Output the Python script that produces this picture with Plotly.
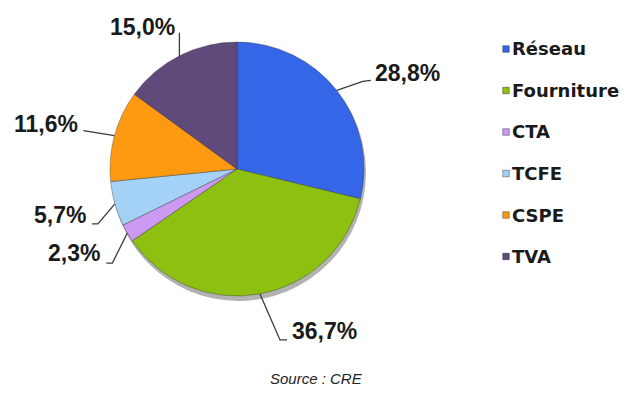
import math
import plotly.graph_objects as go

# ---- data ----
categories = ["Réseau", "Fourniture", "CTA", "TCFE", "CSPE", "TVA"]
shares = [28.8, 36.7, 2.3, 5.7, 11.6, 15.0]
share_labels = ["28,8%", "36,7%", "2,3%", "5,7%", "11,6%", "15,0%"]
colors = ["#3566e8", "#8dc010", "#cc9af2", "#a3d2f6", "#fd9a12", "#5f4a7b"]
source_text = "Source : CRE"

# ---- layout constants (pixels) ----
W, H = 628, 396
CX, CY, R = 237, 169, 127

def px(x):
    return x / W

def py(y):
    return 1 - y / H

# leader-line elbows / ends and text anchor offsets, relative to slice edge point
leader_style = [
    dict(elbow=(26, -9), end=(34, -10), text=(36, -17), anchor="left"),
    dict(elbow=(20, 46), end=(27, 46), text=(30, 37), anchor="left"),
    dict(elbow=(-15, 30), end=(-21, 30), text=(-25, 20), anchor="right"),
    dict(elbow=(-17, 20), end=(-23, 20), text=(-27, 11), anchor="right"),
    dict(elbow=(-31, -5), end=(-31, -5), text=(-34, -12), anchor="right"),
    dict(elbow=(0, -23), end=(0, -23), text=(-2, -29), anchor="right"),
]

fig = go.Figure()
fig.add_trace(go.Pie(
    labels=categories,
    values=shares,
    marker=dict(colors=colors, line=dict(color="rgba(40,40,40,0.35)", width=1)),
    sort=False,
    direction="clockwise",
    rotation=0,
    textinfo="none",
    hoverinfo="label+percent",
    showlegend=False,
    domain=dict(x=[px(CX - R), px(CX + R)], y=[py(CY + R), py(CY - R)]),
))

shapes = []
annotations = []

# drop shadow behind the pie
shapes.append(dict(type="circle", xref="paper", yref="paper", layer="below",
                   x0=px(CX - R + 1), x1=px(CX + R + 2), y0=py(CY + R + 5), y1=py(CY - R + 2),
                   fillcolor="rgba(0,0,0,0.30)", line=dict(width=0)))

total = sum(shares)
cum = 0.0
for val, lab, st in zip(shares, share_labels, leader_style):
    mid = (cum + val / 2) / total
    cum += val
    ang = 2 * math.pi * mid
    ex = CX + R * math.sin(ang)
    ey = CY - R * math.cos(ang)
    bx, by = ex + st["elbow"][0], ey + st["elbow"][1]
    fx, fy = ex + st["end"][0], ey + st["end"][1]
    shapes.append(dict(type="path", xref="paper", yref="paper",
                       path=f"M {px(ex)},{py(ey)} L {px(bx)},{py(by)} L {px(fx)},{py(fy)}",
                       line=dict(color="#3a3a3a", width=1.3)))
    tx, ty = ex + st["text"][0], ey + st["text"][1]
    annotations.append(dict(xref="paper", yref="paper", x=px(tx), y=py(ty),
                            text=f"<b>{lab}</b>", showarrow=False,
                            xanchor=st["anchor"], yanchor="middle",
                            font=dict(family="Liberation Sans, Arial", size=23, color="#1a1a1a")))

# custom legend
LEG_X, LEG_Y0, LEG_DY, SQ = 506, 49, 41.5, 6.5
for i, (cat, col) in enumerate(zip(categories, colors)):
    yc = LEG_Y0 + i * LEG_DY
    shapes.append(dict(type="rect", xref="paper", yref="paper",
                       x0=px(LEG_X - SQ / 2), x1=px(LEG_X + SQ / 2),
                       y0=py(yc + SQ / 2), y1=py(yc - SQ / 2),
                       fillcolor=col, line=dict(color="rgba(0,0,0,0.35)", width=1)))
    annotations.append(dict(xref="paper", yref="paper", x=px(LEG_X + 4), y=py(yc),
                            text=f"<b>{cat}</b>", showarrow=False, xanchor="left", yanchor="middle",
                            font=dict(family="DejaVu Sans", size=18, color="#1a1a1a")))

annotations.append(dict(xref="paper", yref="paper", x=px(316), y=py(378),
                        text=f"<i>{source_text}</i>", showarrow=False,
                        xanchor="center", yanchor="middle",
                        font=dict(family="Liberation Sans, Arial", size=15, color="#222222")))

fig.update_layout(
    width=W, height=H,
    margin=dict(l=0, r=0, t=0, b=0),
    paper_bgcolor="white",
    plot_bgcolor="white",
    shapes=shapes,
    annotations=annotations,
    showlegend=False,
)

fig.write_html(
    "out.html",
    config={"displayModeBar": False},
    post_script="document.body.style.margin='0px';document.body.style.padding='0px';",
)
